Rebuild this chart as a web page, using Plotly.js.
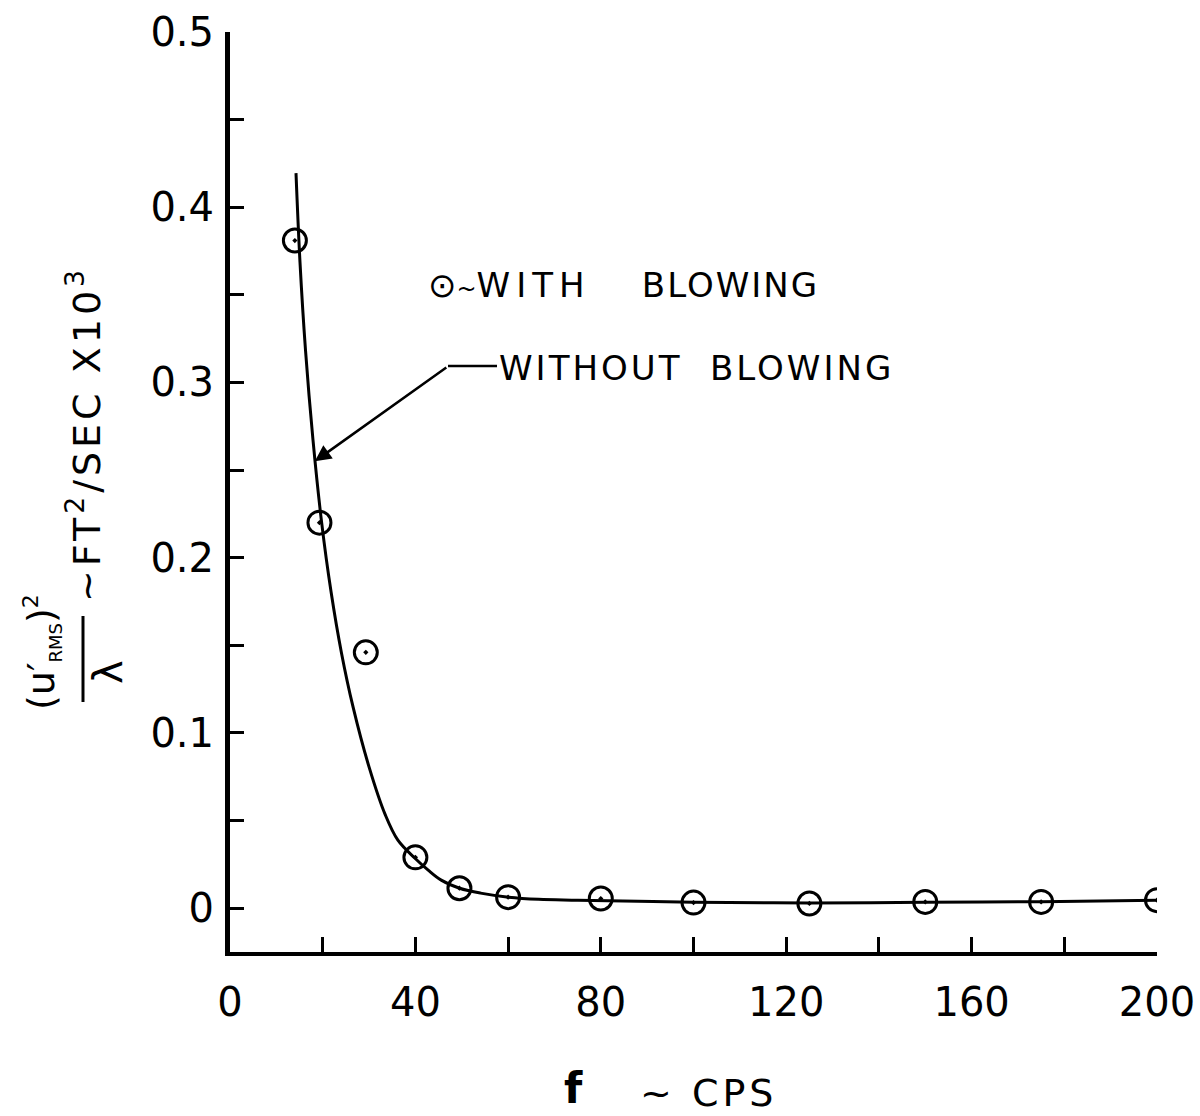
<!DOCTYPE html>
<html>
<head>
<meta charset="utf-8">
<script src="https://cdn.plot.ly/plotly-3.0.1.min.js"></script>
<style>html,body{margin:0;padding:0;background:#fff;}</style>
</head>
<body>
<div id="chart" style="width:1200px;height:1116px;"></div>
<script>
// "without blowing" faired curve (f in CPS, value in FT^2/SEC x10^3)
const curveF = [14.24, 15.10, 16.29, 17.91, 19.76, 21.81, 24.02, 26.56, 30.01, 33.53, 36.22, 39.91, 42.76, 45.57, 49.53, 54.06, 60.11, 66.58, 75.08, 100, 125, 150, 175, 200];
const curveV = [0.4195, 0.3687, 0.3185, 0.2671, 0.2203, 0.1804, 0.1461, 0.1147, 0.0805, 0.0531, 0.0388, 0.0285, 0.0217, 0.0160, 0.0114, 0.0086, 0.0063, 0.0051, 0.0046, 0.0034, 0.0030, 0.0034, 0.0037, 0.0045];
// "with blowing" measured points
const blowF = [14, 19.3, 29.3, 40, 49.5, 60, 80, 100, 125, 150, 175, 200];
const blowV = [0.381, 0.220, 0.146, 0.029, 0.0114, 0.0063, 0.0055, 0.0032, 0.0027, 0.0036, 0.0036, 0.0046];
// tick labels
const xTickVals = [0, 40, 80, 120, 160, 200];
const xTickText = ["0", "40", "80", "120", "160", "200"];
const yTickVals = [0, 0.1, 0.2, 0.3, 0.4, 0.5];
const yTickText = ["0", "0.1", "0.2", "0.3", "0.4", "0.5"];

const FONT = "DejaVu Sans";
const L = 230, R = 1157, T = 32, B = 952;
const px = x => (x - L) / (R - L);
const py = y => (B - y) / (B - T);
const sp = n => '<span style="letter-spacing:' + n + 'px">';
const NB = n => '\u00a0'.repeat(n);

const traces = [
  {
    x: curveF, y: curveV, mode: "lines", type: "scatter",
    line: {color: "#000", width: 3, shape: "spline", smoothing: 1},
    hoverinfo: "skip", showlegend: false
  },
  {
    x: blowF, y: blowV, mode: "markers", type: "scatter",
    marker: {symbol: "circle-open-dot", size: 23, color: "#000", line: {color: "#000", width: 3}},
    showlegend: false
  }
];

const layout = {
  width: 1200, height: 1116,
  margin: {l: L, r: 1200 - R, t: T, b: 1116 - B},
  paper_bgcolor: "#fff", plot_bgcolor: "#fff",
  font: {family: FONT, color: "#000"},
  showlegend: false,
  xaxis: {
    range: [0, 200], showline: true, linewidth: 4, linecolor: "#000",
    showgrid: false, zeroline: false,
    tickmode: "array", tickvals: xTickVals, ticktext: xTickText,
    ticks: "inside", ticklen: 15, tickwidth: 3, tickcolor: "#000",
    minor: {dtick: 20, tick0: 0, ticks: "inside", ticklen: 15, tickwidth: 3, tickcolor: "#000", showgrid: false},
    tickfont: {family: FONT, size: 40, color: "#000"},
    ticklabelstandoff: 12
  },
  yaxis: {
    range: [-0.025, 0.5], showline: true, linewidth: 5, linecolor: "#000",
    showgrid: false, zeroline: false,
    tickmode: "array", tickvals: yTickVals, ticktext: yTickText,
    ticks: "inside", ticklen: 14, tickwidth: 3, tickcolor: "#000",
    minor: {dtick: 0.05, tick0: 0, ticks: "inside", ticklen: 14, tickwidth: 3, tickcolor: "#000", showgrid: false},
    tickfont: {family: FONT, size: 40, color: "#000"},
    ticklabelstandoff: 3
  },
  shapes: [
    // leader horizontal segment for WITHOUT BLOWING
    {type: "line", xref: "paper", yref: "paper", x0: px(448), x1: px(497), y0: py(366), y1: py(366), line: {color: "#000", width: 2.5}},
    // fraction bar of y title
    {type: "line", xref: "paper", yref: "paper", x0: px(83), x1: px(83), y0: py(616), y1: py(702), line: {color: "#000", width: 3}}
  ],
  annotations: [
    {xref: "x", yref: "y", x: 18.3, y: 0.255, ax: 133, ay: -95, axref: "pixel", ayref: "pixel",
     showarrow: true, arrowhead: 2, arrowsize: 1.3, arrowwidth: 2.5, arrowcolor: "#000", text: ""},
    {xref: "paper", yref: "paper", x: px(426), y: py(285), xanchor: "left", yanchor: "middle", align: "left", showarrow: false,
     text: '<span style="font-size:34px">⊙</span><span style="font-size:24px">~</span>' + sp(6) + 'WITH</span>' + sp(2) + NB(4) + 'BLOWING</span>',
     font: {family: FONT, size: 34, color: "#000"}},
    {xref: "paper", yref: "paper", x: px(497), y: py(368), xanchor: "left", yanchor: "middle", align: "left", showarrow: false,
     text: sp(3) + 'WITHOUT' + NB(2) + 'BLOWING</span>',
     font: {family: FONT, size: 34, color: "#000"}},
    // x axis title
    {xref: "paper", yref: "paper", x: px(573), y: py(1088), xanchor: "center", yanchor: "middle", showarrow: false,
     text: "<b>f</b>", font: {family: FONT, size: 42, color: "#000"}},
    {xref: "paper", yref: "paper", x: px(638), y: py(1093), xanchor: "left", yanchor: "middle", align: "left", showarrow: false,
     text: sp(4) + "~ CPS</span>", font: {family: FONT, size: 38, color: "#000"}},
    // y axis title (rotated): numerator, denominator, units
    {xref: "paper", yref: "paper", x: px(42), y: py(652), xanchor: "center", yanchor: "middle", showarrow: false, textangle: -90,
     text: '(u′<sub><span style="font-size:18px">RMS</span></sub>)<sup><span style="font-size:22px">2</span></sup>', font: {family: FONT, size: 38, color: "#000"}},
    {xref: "paper", yref: "paper", x: px(108), y: py(672), xanchor: "center", yanchor: "middle", showarrow: false, textangle: -90,
     text: "λ", font: {family: FONT, size: 40, color: "#000"}},
    {xref: "paper", yref: "paper", x: px(84), y: py(434), xanchor: "center", yanchor: "middle", showarrow: false, textangle: -90,
     text: sp(4) + "~FT<sup>2</sup>/SEC X10<sup>3</sup></span>", font: {family: FONT, size: 38, color: "#000"}}
  ]
};

Plotly.newPlot("chart", traces, layout, {displayModeBar: false, staticPlot: true});
</script>
</body>
</html>
